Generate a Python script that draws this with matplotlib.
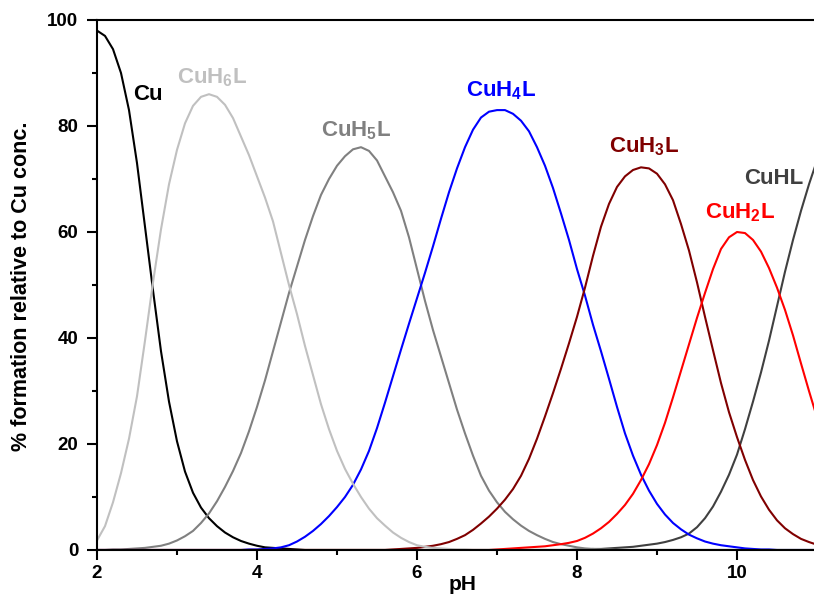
import numpy as np
import matplotlib
matplotlib.use('Agg')
import matplotlib.pyplot as plt

plt.rcParams['font.family'] = ['Liberation Sans', 'DejaVu Sans']
plt.rcParams['font.weight'] = 'bold'
plt.rcParams['mathtext.fontset'] = 'custom'
plt.rcParams['mathtext.rm'] = 'Liberation Sans:bold'
plt.rcParams['mathtext.bf'] = 'Liberation Sans:bold'

# pH grid the values were read on (0.1 steps, 2.0 .. 11.0)
ph = np.round(np.arange(2.0, 11.05, 0.1), 1)

# % formation
cu = [98, 97, 94.5, 90, 83, 73, 61, 49, 37.5, 28,
      20.5, 14.8, 10.8, 8, 6, 4.5, 3.3, 2.4, 1.7, 1.2,
      0.8, 0.5, 0.4, 0.3, 0.2, 0.1] + [0] * 65
cuh6l = [1.8, 4.5, 9, 14.5, 21, 29, 39.5, 50.5, 60.5, 69,
         75.5, 80.5, 83.8, 85.5, 86, 85.5, 84, 81.5, 78, 74.5,
         70.5, 66.5, 62, 56, 50, 44.5, 38.5, 33, 27.5, 22.8,
         18.7, 15.3, 12.5, 10, 7.8, 6, 4.6, 3.3, 2.3, 1.5,
         0.9, 0.6, 0.4, 0.3, 0.2, 0.1, 0.1] + [0] * 44
cuh5l = [0, 0, 0.1, 0.1, 0.2, 0.3, 0.4, 0.6, 0.8, 1.2,
         1.8, 2.6, 3.6, 5.1, 6.9, 9.2, 11.9, 14.9, 18.3, 22.4,
         27, 32, 37.5, 43, 48.5, 53.5, 58.5, 63, 67, 70,
         72.5, 74.3, 75.6, 76, 75.3, 73.5, 70.5, 67.5, 64, 59,
         53, 47, 41.5, 36.5, 31.5, 26.5, 22, 17.8, 14, 11.2,
         9, 7.2, 5.8, 4.6, 3.6, 2.8, 2.1, 1.5, 1.1, 0.8,
         0.5, 0.3, 0.2, 0.1, 0.1] + [0] * 26
cuh4l = [0] * 19 + [0.1,
                    0.1, 0.2, 0.3, 0.5, 0.9, 1.6, 2.5, 3.6, 4.9, 6.4,
                    8.1, 10, 12.3, 15.2, 18.7, 23, 27.8, 32.8, 37.8, 42.7,
                    47.5, 52.3, 57.3, 62.5, 67.5, 72, 76, 79.3, 81.6, 82.7,
                    83, 83, 82.3, 81, 79, 76, 72.5, 68.3, 63.5, 58.5,
                    53, 48, 42.5, 37.5, 32.3, 27, 22, 17.8, 14.2, 11.2,
                    8.7, 6.7, 5.1, 3.9, 2.9, 2.2, 1.6, 1.2, 0.9, 0.7,
                    0.5, 0.3, 0.2, 0.1, 0.1] + [0] * 6
cuh3l = [0] * 37 + [0.1, 0.2, 0.3,
                    0.4, 0.6, 0.8, 1.1, 1.5, 2.1, 2.8, 3.8, 5, 6.3,
                    7.8, 9.5, 11.5, 14, 17.2, 21, 25.2, 29.6, 34.2, 39,
                    44, 49.5, 55.5, 61, 65.3, 68.5, 70.5, 71.7, 72.2, 72,
                    71, 69, 66, 61.5, 56.5, 50.5, 44, 37.7, 31.5, 26,
                    21.3, 17, 13.2, 10.1, 7.6, 5.6, 4.1, 3, 2.1, 1.5,
                    1.0]
cuh2l = [0] * 50 + [0.1, 0.2, 0.3, 0.4, 0.5, 0.6, 0.7, 0.9, 1.1, 1.35,
                    1.7, 2.3, 3.1, 4.1, 5.3, 6.8, 8.5, 10.6, 13.2, 16.2,
                    19.8, 24, 28.8, 33.8, 38.8, 43.8, 48.5, 53, 56.8, 59,
                    60, 59.8, 58.5, 56.3, 53.2, 49.5, 45.3, 40.5, 35.2, 30,
                    25]
cuhl = [0] * 60 + [0.1, 0.1, 0.2, 0.2, 0.3, 0.4, 0.5, 0.6, 0.8, 1,
                   1.2, 1.5, 1.9, 2.4, 3.1, 4.3, 6, 8.2, 11, 14.2,
                   18, 22.8, 28, 33.5, 39.5, 46, 52.5, 58.5, 64, 69,
                   73.5]

fig = plt.figure(figsize=(8.14, 6.01), dpi=100)
ax = fig.add_axes([97/814, 51/601, 720/814, 530/601])

ax.plot(ph, cu, color='black', lw=1.5)
ax.plot(ph, cuhl, color='#404040', lw=1.5)
ax.plot(ph, cuh5l, color='#808080', lw=1.5)
ax.plot(ph, cuh4l, color='#0000ff', lw=1.5)
ax.plot(ph, cuh3l, color='#800000', lw=1.5)
ax.plot(ph, cuh2l, color='#ff0000', lw=1.5)
ax.plot(ph, cuh6l, color='#c0c0c0', lw=1.5)

ax.set_xlim(2, 11)
ax.set_ylim(0, 100)
ax.set_xticks([2, 4, 6, 8, 10])
ax.set_xticks([3, 5, 7, 9], minor=True)
ax.set_yticks([0, 20, 40, 60, 80, 100])
ax.set_yticks([10, 30, 50, 70, 90], minor=True)
for s in ax.spines.values():
    s.set_linewidth(1.5)
ax.tick_params(which='major', length=7, width=1.5, labelsize=13.5, pad=4)
ax.tick_params(axis='y', which='major', pad=6.5)
ax.tick_params(which='minor', length=3.5, width=1.5)

lab = dict(fontsize=16, fontweight='bold', ha='center', va='baseline')
ax.text(2.64, 85, 'Cu', color='black', **lab)
ax.text(3.44, 88, r'CuH$_6$L', color='#c0c0c0', **lab)
ax.text(5.24, 78, r'CuH$_5$L', color='#808080', **lab)
ax.text(7.05, 85.5, r'CuH$_4$L', color='#0000ff', **lab)
ax.text(8.84, 75, r'CuH$_3$L', color='#800000', **lab)
ax.text(10.04, 62.6, r'CuH$_2$L', color='#ff0000', **lab)
ax.text(10.46, 69, 'CuHL', color='#404040', **lab)

fig.text(463/814, 1 - 585/601, 'pH', fontsize=15, fontweight='bold',
         ha='center', va='center')
fig.text(22/814, 1 - 286/601, '% formation relative to Cu conc.', fontsize=15.5,
         fontweight='bold', ha='center', va='center', rotation=90)

fig.savefig('out.png', dpi=100)
